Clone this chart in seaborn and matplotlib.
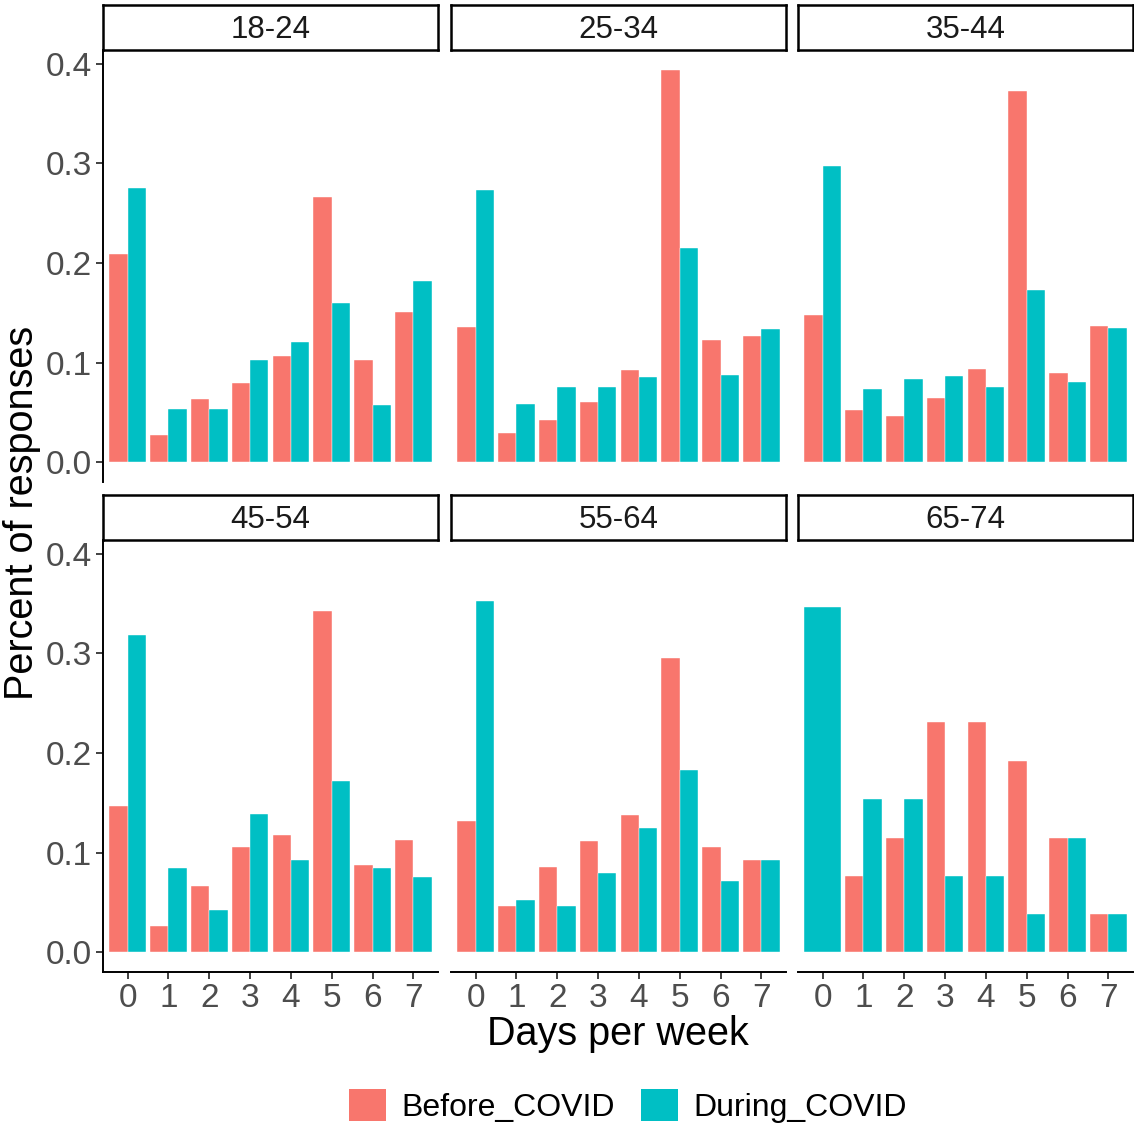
import numpy as np
import pandas as pd
import matplotlib
matplotlib.use("Agg")
import matplotlib.pyplot as plt
from matplotlib.patches import Patch
import seaborn as sns

# ---- data: share of responses by days per week, per age group ----
days = ["0", "1", "2", "3", "4", "5", "6", "7"]
age_groups = ["18-24", "25-34", "35-44", "45-54", "55-64", "65-74"]
periods = ["Before_COVID", "During_COVID"]

before_18_24 = [0.209, 0.027, 0.064, 0.080, 0.107, 0.266, 0.103, 0.151]
during_18_24 = [0.275, 0.054, 0.054, 0.103, 0.121, 0.160, 0.058, 0.182]

before_25_34 = [0.136, 0.029, 0.043, 0.061, 0.093, 0.394, 0.123, 0.127]
during_25_34 = [0.273, 0.059, 0.076, 0.076, 0.086, 0.215, 0.088, 0.134]

before_35_44 = [0.148, 0.053, 0.047, 0.065, 0.094, 0.373, 0.090, 0.137]
during_35_44 = [0.297, 0.074, 0.084, 0.087, 0.076, 0.173, 0.081, 0.135]

before_45_54 = [0.147, 0.026, 0.067, 0.106, 0.118, 0.342, 0.088, 0.113]
during_45_54 = [0.318, 0.085, 0.043, 0.139, 0.093, 0.172, 0.085, 0.076]

before_55_64 = [0.132, 0.047, 0.086, 0.112, 0.138, 0.295, 0.106, 0.093]
during_55_64 = [0.353, 0.053, 0.047, 0.080, 0.125, 0.183, 0.072, 0.093]

before_65_74 = [np.nan, 0.077, 0.115, 0.231, 0.231, 0.192, 0.115, 0.038]
during_65_74 = [0.346, 0.154, 0.154, 0.077, 0.077, 0.038, 0.115, 0.038]

series = {
    "18-24": (before_18_24, during_18_24),
    "25-34": (before_25_34, during_25_34),
    "35-44": (before_35_44, during_35_44),
    "45-54": (before_45_54, during_45_54),
    "55-64": (before_55_64, during_55_64),
    "65-74": (before_65_74, during_65_74),
}

rows = []
for age in age_groups:
    for period, vals in zip(periods, series[age]):
        for d, v in zip(days, vals):
            rows.append({"age": age, "day": d, "period": period, "pct": v})
df = pd.DataFrame(rows).dropna(subset=["pct"])

colors = {"Before_COVID": "#F8766D", "During_COVID": "#00BFC4"}

# ---- figure / layout ----
W, H = 1134, 1126
plt.rcParams["font.family"] = ["Liberation Sans", "DejaVu Sans"]
fig = plt.figure(figsize=(W / 100, H / 100), dpi=100)
fig.patch.set_facecolor("white")

col_x = [(103, 438), (451, 786), (798, 1133)]
row_y = [(50, 482), (540, 972)]      # panel top / bottom in px
strip_h = 45

ymin, ymax = -0.0197, 0.4137
tick_color = "#333333"
label_color = "#4D4D4D"
tick_fs = 24
strip_fs = 22.5


def px_rect(x0, x1, ytop, ybot):
    return [x0 / W, 1 - ybot / H, (x1 - x0) / W, (ybot - ytop) / H]


for i, age in enumerate(age_groups):
    r, c = divmod(i, 3)
    x0, x1 = col_x[c]
    yt, yb = row_y[r]
    ax = fig.add_axes(px_rect(x0, x1, yt, yb))
    sub = df[df["age"] == age]

    n_per_day = sub.groupby("day")["period"].transform("nunique")
    paired = sub[n_per_day == 2]
    single = sub[n_per_day == 1]

    common = dict(x="day", y="pct", hue="period", order=days, hue_order=periods,
                  palette=colors, width=0.9, saturation=1, errorbar=None,
                  edgecolor="white", linewidth=0.3, legend=False, ax=ax)
    sns.barplot(data=paired, dodge=True, **common)
    if len(single):
        # a day with only one period gets the full bar width
        sns.barplot(data=single, dodge=False, **common)

    ax.set_xlim(-0.6, 7.6)
    ax.set_ylim(ymin, ymax)
    ax.set_xlabel("")
    ax.set_ylabel("")
    ax.set_facecolor("white")
    for s in ["top", "right"]:
        ax.spines[s].set_visible(False)

    # left axis only on first column
    if c == 0:
        ax.spines["left"].set_color("black")
        ax.spines["left"].set_linewidth(1.4)
        ax.set_yticks([0.0, 0.1, 0.2, 0.3, 0.4])
        ax.set_yticklabels(["0.0", "0.1", "0.2", "0.3", "0.4"])
        ax.tick_params(axis="y", length=5, width=1.3, color=tick_color,
                       labelsize=tick_fs, labelcolor=label_color, pad=3)
    else:
        ax.spines["left"].set_visible(False)
        ax.set_yticks([0.0, 0.1, 0.2, 0.3, 0.4])
        ax.tick_params(axis="y", length=0, labelleft=False)

    # bottom axis only on second row
    if r == 1:
        ax.spines["bottom"].set_color("black")
        ax.spines["bottom"].set_linewidth(1.4)
        ax.set_xticks(range(len(days)))
        ax.set_xticklabels(days)
        ax.tick_params(axis="x", length=5, width=1.3, color=tick_color,
                       labelsize=tick_fs, labelcolor=label_color, pad=3)
    else:
        ax.spines["bottom"].set_visible(False)
        ax.tick_params(axis="x", length=0, labelbottom=False)

    # facet strip
    sax = fig.add_axes(px_rect(x0, x1, yt - strip_h, yt))
    sax.set_xticks([])
    sax.set_yticks([])
    sax.set_facecolor("white")
    for s in sax.spines.values():
        s.set_color("black")
        s.set_linewidth(1.8)
    sax.text(0.5, 0.45, age, ha="center", va="center", fontsize=strip_fs,
             color="#1A1A1A", transform=sax.transAxes)

# axis titles
fig.text(618 / W, 1 - 1034 / H, "Days per week", ha="center", va="center",
         fontsize=28.5, color="black")
fig.text(22 / W, 1 - 513 / H, "Percent of responses", ha="center", va="center",
         rotation=90, fontsize=28.5, color="black")

# legend
handles = [Patch(facecolor=colors[p], edgecolor="none", label=p) for p in periods]
fig.legend(handles=handles, loc="center", bbox_to_anchor=(628 / W, 1 - 1106 / H),
           ncol=2, frameon=False, fontsize=23, handlelength=1.15, handleheight=1.15,
           handletextpad=0.5, columnspacing=0.8)

fig.savefig("out.png", dpi=100, facecolor="white")
